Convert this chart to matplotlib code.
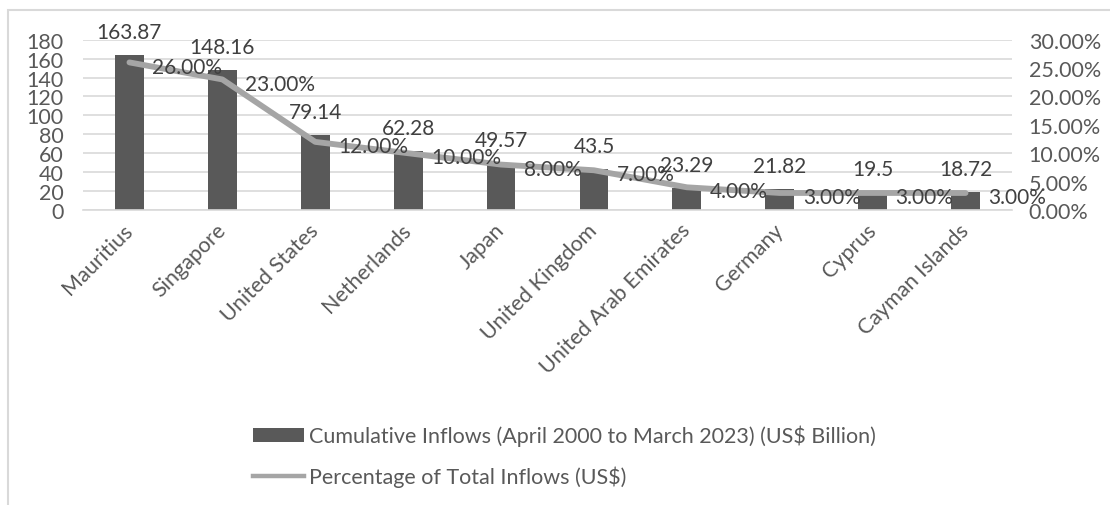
import numpy as np
import matplotlib.pyplot as plt
from matplotlib.patches import Rectangle, Patch
from matplotlib.lines import Line2D

plt.rcParams['font.family'] = ['Lato', 'DejaVu Sans']

countries = ["Mauritius", "Singapore", "United States", "Netherlands", "Japan",
             "United Kingdom", "United Arab Emirates", "Germany", "Cyprus",
             "Cayman Islands"]
inflows = [163.87, 148.16, 79.14, 62.28, 49.57, 43.5, 23.29, 21.82, 19.5, 18.72]
share = [0.26, 0.23, 0.12, 0.10, 0.08, 0.07, 0.04, 0.03, 0.03, 0.03]

bar_label = "Cumulative Inflows (April 2000 to March 2023) (US$ Billion)"
line_label = "Percentage of Total Inflows (US$)"

BAR = '#595959'
LINE = '#A5A5A5'
GRID = '#D9D9D9'
TXT = '#595959'
LAB = '#404040'
FS = 15.5

W, H = 1110, 506
fig = plt.figure(figsize=(W/100, H/100), dpi=100)
ax = fig.add_axes([83/W, 1-211/H, 929/W, (211-40.7)/H])

x = np.arange(len(countries))
ax.bar(x, inflows, width=0.31, color=BAR, zorder=2)
ax.set_xlim(-0.5, len(countries)-0.5)
ax.set_ylim(0, 180)
ax.set_yticks(np.arange(0, 181, 20))
ax.grid(axis='y', color=GRID, lw=1.2, zorder=0)
for s in ['top', 'left', 'right']:
    ax.spines[s].set_visible(False)
ax.spines['bottom'].set_color(GRID)
ax.spines['bottom'].set_linewidth(1.2)
ax.tick_params(axis='y', length=0, pad=14, labelsize=FS, labelcolor=TXT)
ax.tick_params(axis='x', length=0, pad=12, labelsize=FS, labelcolor=TXT)
ax.set_xticks(x)
ax.set_xticklabels(countries, rotation=45, ha='right', va='center',
                   rotation_mode='anchor')

for i, v in enumerate(inflows):
    ax.annotate(f"{v:g}", (i, v), xytext=(0, 16.5), textcoords='offset points',
                ha='center', va='center', fontsize=15, color=LAB, zorder=5)

ax2 = ax.twinx()
ax2.plot(x, share, color=LINE, lw=4.2, solid_joinstyle='round',
         solid_capstyle='round', zorder=3)
ax2.set_ylim(0, 0.30)
ax2.set_yticks(np.arange(0, 0.301, 0.05))
ax2.set_yticklabels([f"{t*100:.2f}%" for t in np.arange(0, 0.301, 0.05)])
for s in ['top', 'left', 'right', 'bottom']:
    ax2.spines[s].set_visible(False)
ax2.tick_params(axis='y', length=0, pad=12, labelsize=FS, labelcolor=TXT)

for i, p in enumerate(share):
    ax2.annotate(f"{p*100:.2f}%", (i, p), xytext=(16.5, -3),
                 textcoords='offset points', ha='left', va='center',
                 fontsize=15, color=LAB, zorder=5)

handles = [Patch(facecolor=BAR, edgecolor='none'),
           Line2D([0], [0], color=LINE, lw=3.2)]
fig.legend(handles, [bar_label, line_label], loc='upper left',
           bbox_to_anchor=(244/W, 1-417/H), frameon=False, fontsize=FS,
           labelcolor=TXT, handlelength=2.4, handleheight=0.62,
           handletextpad=0.2, labelspacing=0.9, borderaxespad=0)

fig.patches.append(Rectangle((7.5/W, -0.1), 1.2, 1.1-10.5/H,
                             transform=fig.transFigure, fill=False,
                             ec=GRID, lw=1.5))

fig.savefig('out.png', dpi=100, facecolor='white')
